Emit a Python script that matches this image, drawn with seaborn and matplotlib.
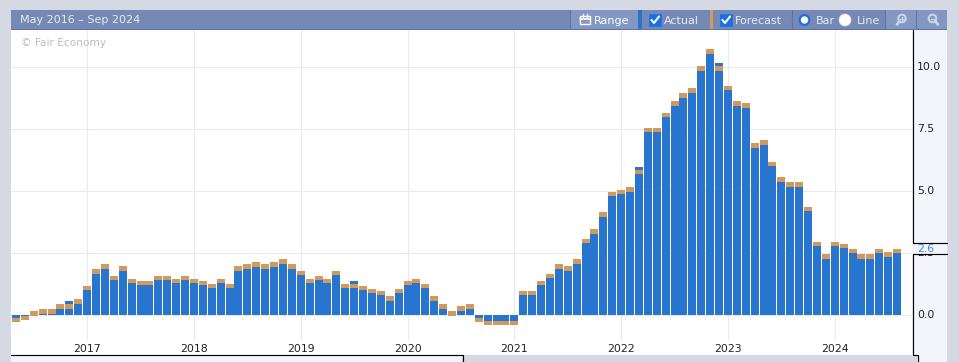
import pandas as pd
import seaborn as sns
import matplotlib.pyplot as plt
from matplotlib.patches import Rectangle, Circle
from matplotlib.transforms import ScaledTranslation

# chart data, May 2016 - Aug 2024
months = [str(p) for p in pd.period_range('2016-05', '2024-08', freq='M')]
actual = [-0.12, -0.04, 0.0, 0.08, 0.08, 0.28, 0.56, 0.48,
          1.01, 1.69, 1.89, 1.41, 1.81, 1.29, 1.21, 1.21, 1.41, 1.41, 1.29, 1.41,
          1.29, 1.21, 1.09, 1.29, 1.09, 1.81, 1.89, 1.97, 1.89, 1.97, 2.09, 1.89,
          1.61, 1.29, 1.41, 1.29, 1.61, 1.09, 1.37, 1.01, 0.89, 0.80, 0.60, 0.89,
          1.21, 1.29, 1.09, 0.60, 0.28, 0.0, 0.20, 0.28, -0.12, -0.24, -0.24, -0.24,
          -0.24, 0.80, 0.80, 1.21, 1.49, 1.89, 1.81, 2.09, 2.90, 3.30, 3.98, 4.79,
          4.87, 4.99, 5.96, 7.36, 7.36, 7.97, 8.45, 8.77, 8.97, 9.86, 10.54, 10.14,
          9.05, 8.45, 8.37, 6.76, 6.88, 6.00, 5.39, 5.19, 5.19, 4.19, 2.78, 2.29,
          2.78, 2.70, 2.49, 2.29, 2.29, 2.49, 2.37, 2.49]
forecast = [-0.12, -0.04, 0.16, 0.24, 0.24, 0.44, 0.44, 0.64,
            1.17, 1.85, 2.05, 1.57, 1.97, 1.45, 1.37, 1.37, 1.57, 1.57, 1.45, 1.57,
            1.45, 1.37, 1.25, 1.45, 1.25, 1.97, 2.05, 2.13, 2.05, 2.13, 2.25, 2.05,
            1.77, 1.45, 1.57, 1.45, 1.77, 1.25, 1.25, 1.17, 1.05, 0.97, 0.76, 1.05,
            1.37, 1.45, 1.25, 0.76, 0.44, 0.16, 0.36, 0.44, -0.12, -0.24, -0.24, -0.24,
            -0.24, 0.97, 0.97, 1.37, 1.65, 2.05, 1.97, 2.25, 3.06, 3.46, 4.14, 4.95,
            5.03, 5.15, 5.84, 7.53, 7.53, 8.13, 8.61, 8.93, 9.13, 10.02, 10.70, 10.02,
            9.22, 8.61, 8.53, 6.92, 7.04, 6.16, 5.55, 5.35, 5.35, 4.35, 2.94, 2.45,
            2.94, 2.86, 2.66, 2.45, 2.45, 2.66, 2.53, 2.66]
y_ticks = [0, 2.5, 5, 7.5, 10]
latest = '2.6'

BLUE = '#2775cf'
ORANGE = '#d19a5c'
HEADER = '#7689b5'
BUTTON = '#8497c0'
OUTER = '#d5d9e3'
PANEL = '#f3f5fa'
GRID = '#e8eaf3'
TEXT = '#222222'
LIGHT = '#e6eaf3'
ICON = '#cbd4e8'
BAND = 0.18

sns.set_theme(style='white')
plt.rcParams['font.family'] = ['DejaVu Sans']

df = pd.DataFrame({'month': months, 'actual': actual, 'forecast': forecast})
df['band'] = BAND

W, H = 959, 362
fig = plt.figure(figsize=(W / 100, H / 100), dpi=100, facecolor=OUTER)


def px_axes(zorder):
    a = fig.add_axes([0, 0, 1, 1], zorder=zorder)
    a.set_xlim(0, W)
    a.set_ylim(H, 0)
    a.axis('off')
    return a


def box(a, x0, y0, x1, y1, color):
    a.add_patch(Rectangle((x0, y0), x1 - x0, y1 - y0, color=color, lw=0))


# panels behind the plot
back = px_axes(0)
box(back, 11, 30, 947, 340, 'white')
box(back, 11, 340, 917, 355, 'white')
box(back, 912, 30, 947, 362, PANEL)
box(back, 11, 355, 462, 362, PANEL)

# main plot, ends above the year labels
ax = fig.add_axes([11 / W, (H - 340) / H, 901 / W, 310 / H], zorder=1)
ax.patch.set_alpha(0)
sns.barplot(data=df, x='month', y='actual', color=BLUE, saturation=1, width=0.9,
            linewidth=0, ax=ax)
sns.barplot(data=df, x='month', y='band', bottom=df['forecast'] - BAND, color=ORANGE,
            saturation=1, width=0.9, linewidth=0, ax=ax)
ax.set_xlim(-0.56, 100.68)
ax.set_ylim(-1.006, 11.47)
ax.set_xlabel('')
ax.set_ylabel('')
jan = [i for i, m in enumerate(months) if m.endswith('-01')]
ax.set_xticks(jan, [months[i][:4] for i in jan])
ax.set_yticks(y_ticks, [f'{v:.1f}' for v in y_ticks])
ax.yaxis.tick_right()
ax.grid(True, color=GRID, lw=0.85)
ax.set_axisbelow(True)
ax.tick_params(axis='x', length=0, pad=3, labelsize=7.8, labelcolor=TEXT)
ax.tick_params(axis='y', length=0, pad=3.6, labelsize=7.8, labelcolor=TEXT)
up = ScaledTranslation(0, 1 / 100, fig.dpi_scale_trans)
for lab in ax.get_yticklabels():
    lab.set_transform(lab.get_transform() + up)
for s in ax.spines.values():
    s.set_visible(False)

# header bar and frame lines
top = px_axes(2)
box(top, 11, 10, 947, 30, HEADER)
box(top, 11, 29, 947, 30, '#5d74a6')
box(top, 570, 10, 638, 29, BUTTON)
box(top, 885, 10, 947, 29, BUTTON)
for x in [570, 792, 885, 916]:
    top.plot([x, x], [10, 29], color='#5d74a6', lw=0.8)
box(top, 638, 10, 642, 29, BLUE)
box(top, 710, 10, 713, 29, ORANGE)

top.text(20, 20, 'May 2016 – Sep 2024', color=LIGHT, fontsize=8, va='center')
top.text(21, 43, '© Fair Economy', color='#bcbcbc', fontsize=7.6, va='center')
top.text(594, 20.5, 'Range', color='white', fontsize=8, va='center')
top.text(664, 20.5, 'Actual', color=LIGHT, fontsize=8, va='center')
top.text(735, 20.5, 'Forecast', color=LIGHT, fontsize=8, va='center')
top.text(816, 20.5, 'Bar', color=LIGHT, fontsize=8, va='center')
top.text(857, 20.5, 'Line', color=LIGHT, fontsize=8, va='center')

# calendar icon
top.add_patch(Rectangle((580, 16), 10, 8, fc='none', ec='white', lw=1))
top.plot([580, 590], [19, 19], color='white', lw=1.2)
top.plot([583, 583], [14, 17], color='white', lw=1)
top.plot([587, 587], [14, 17], color='white', lw=1)

# checkboxes
for x in [649, 720]:
    top.add_patch(Rectangle((x, 14), 12, 12, fc='#1a6fe3', ec='#1a6fe3', lw=0.5))
    top.plot([x + 2.5, x + 5, x + 10], [20, 23, 16.5], color='white', lw=1.5)

# radio buttons
top.add_patch(Circle((804.5, 20), 4.8, fc='white', ec='#1a6fe3', lw=1.6))
top.add_patch(Circle((845, 20), 6, fc='white', ec='#dddddd', lw=0.5))

# zoom icons, the handles point away from each other
for cx, hx in [(902, -5), (932.5, 5.5)]:
    top.add_patch(Circle((cx, 18.5), 3.8, fc='none', ec=ICON, lw=1.5))
    top.plot([cx + hx * 0.55, cx + hx], [21.5, 24.5], color=ICON, lw=2)
    top.plot([cx - 1.8, cx + 1.8], [18.5, 18.5], color=ICON, lw=1)
top.plot([902, 902], [16.7, 20.3], color=ICON, lw=1)

# right axis line, the 2.6 marker and the bottom frame
box(top, 912.5, 243, 947, 254, PANEL)
top.plot([912.5, 912.5], [30, 243], color='black', lw=0.85)
top.plot([912.5, 947], [243.3, 243.3], color='black', lw=0.85)
top.plot([912.5, 947], [254, 254], color='black', lw=0.85)
top.plot([912.5, 912.5, 917.5, 917.5], [254, 355, 355, 362], color='black', lw=0.85)
top.plot([11, 462.5, 462.5], [355.3, 355.3, 362], color='black', lw=0.85)
top.text(917.5, 249, latest, color='#3f86d8', fontsize=7.8, va='center')
box(top, 463, 356, 917, 362, OUTER)
box(top, 947, 10, 959, 362, OUTER)

fig.savefig('out.png', dpi=100, facecolor=OUTER)
